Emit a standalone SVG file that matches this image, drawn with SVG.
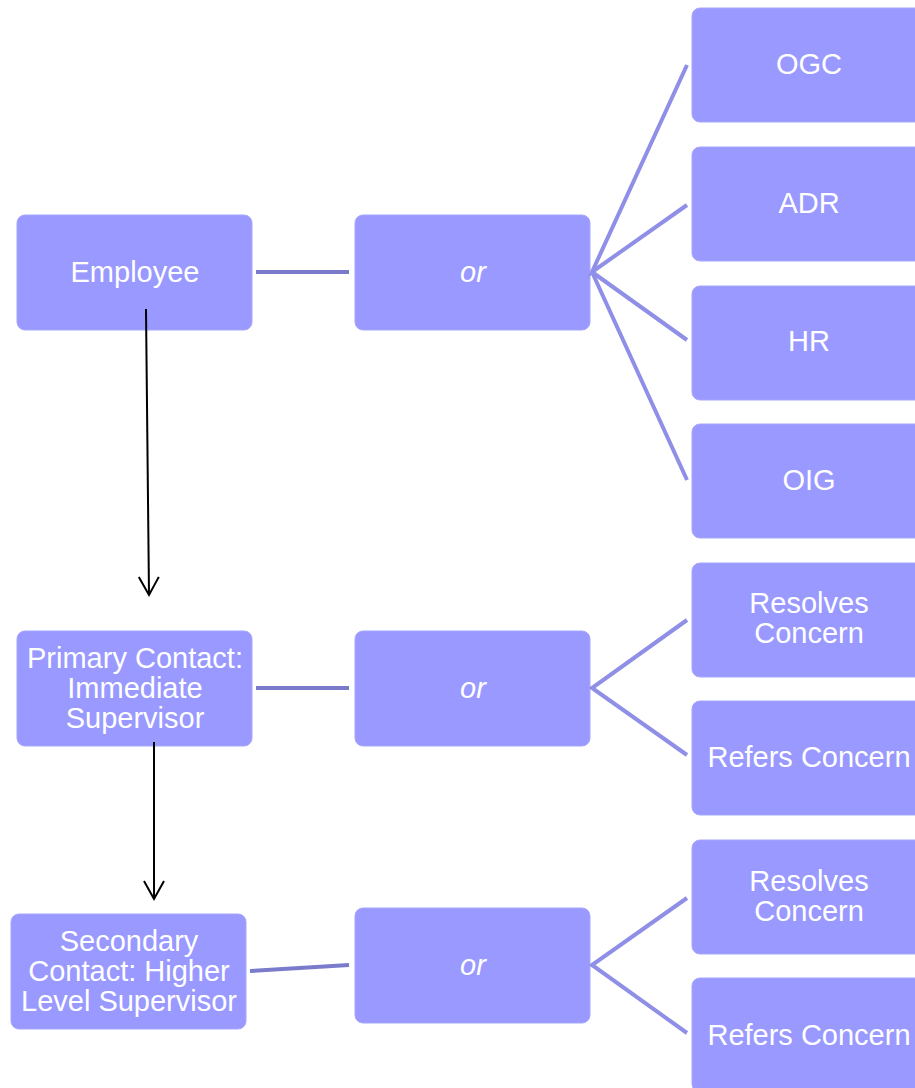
<svg xmlns="http://www.w3.org/2000/svg" width="915" height="1088" viewBox="0 0 915 1088">
<defs>
<style>
.box{fill:#9999ff;stroke:#a6a6ff;stroke-width:1}
.t{font-family:"Liberation Sans",Arial,sans-serif;font-size:29px;fill:#ffffff;text-anchor:middle}
.i{font-style:italic}
.h{stroke:#7b7bcc;stroke-width:4;fill:none}
.f{stroke:#8f8fe8;stroke-width:4;fill:none}
.a{stroke:#000;stroke-width:2;fill:none}
</style>
<marker id="arr" markerWidth="24" markerHeight="24" refX="19" refY="11" orient="auto" markerUnits="userSpaceOnUse">
<path d="M1,1 L19,11 L1,21" fill="none" stroke="#000" stroke-width="2"/>
</marker>
</defs>
<rect width="915" height="1088" fill="#ffffff"/>
<g id="employee"><rect class="box" x="17" y="215" width="235" height="115" rx="8"/><text class="t" x="135" y="282">Employee</text></g>
<g id="or1"><rect class="box" x="355" y="215" width="235" height="115" rx="8"/><text class="t i" x="473" y="282">or</text></g>
<g id="ogc"><rect class="box" x="692" y="8" width="235" height="114" rx="8"/><text class="t" x="809" y="74">OGC</text></g>
<g id="adr"><rect class="box" x="692" y="147" width="235" height="114" rx="8"/><text class="t" x="809" y="213">ADR</text></g>
<g id="hr"><rect class="box" x="692" y="286" width="235" height="114" rx="8"/><text class="t" x="809" y="351">HR</text></g>
<g id="oig"><rect class="box" x="692" y="424" width="235" height="114" rx="8"/><text class="t" x="809" y="490">OIG</text></g>
<g id="primary"><rect class="box" x="17" y="631" width="235" height="115" rx="8"/><text class="t" x="135" y="668">Primary Contact:</text><text class="t" x="135" y="698">Immediate</text><text class="t" x="135" y="728">Supervisor</text></g>
<g id="or2"><rect class="box" x="355" y="631" width="235" height="115" rx="8"/><text class="t i" x="473" y="698">or</text></g>
<g id="resolves1"><rect class="box" x="692" y="563" width="235" height="114" rx="8"/><text class="t" x="809" y="613">Resolves</text><text class="t" x="809" y="643">Concern</text></g>
<g id="refers1"><rect class="box" x="692" y="701" width="235" height="114" rx="8"/><text class="t" x="809" y="767">Refers Concern</text></g>
<g id="secondary"><rect class="box" x="11" y="914" width="235" height="115" rx="8"/><text class="t" x="129" y="951">Secondary</text><text class="t" x="129" y="981">Contact: Higher</text><text class="t" x="129" y="1011">Level Supervisor</text></g>
<g id="or3"><rect class="box" x="355" y="908" width="235" height="115" rx="8"/><text class="t i" x="473" y="975">or</text></g>
<g id="resolves2"><rect class="box" x="692" y="840" width="235" height="114" rx="8"/><text class="t" x="809" y="891">Resolves</text><text class="t" x="809" y="921">Concern</text></g>
<g id="refers2"><rect class="box" x="692" y="978" width="235" height="114" rx="8"/><text class="t" x="809" y="1045">Refers Concern</text></g>
<g id="connectors">
<line class="h" x1="256" y1="272" x2="349" y2="272"/>
<line class="h" x1="256" y1="688" x2="349" y2="688"/>
<line class="h" x1="250" y1="971" x2="349" y2="965"/>
<path class="f" d="M687,65 L592,272 L687,205 M592,272 L687,340 M592,272 L687,480"/>
<path class="f" d="M687,620 L592,688 L687,755"/>
<path class="f" d="M687,898 L592,965 L687,1033"/>
<line class="a" x1="146" y1="309" x2="149" y2="595" marker-end="url(#arr)"/>
<line class="a" x1="154" y1="742" x2="154" y2="899" marker-end="url(#arr)"/>
</g>
</svg>
